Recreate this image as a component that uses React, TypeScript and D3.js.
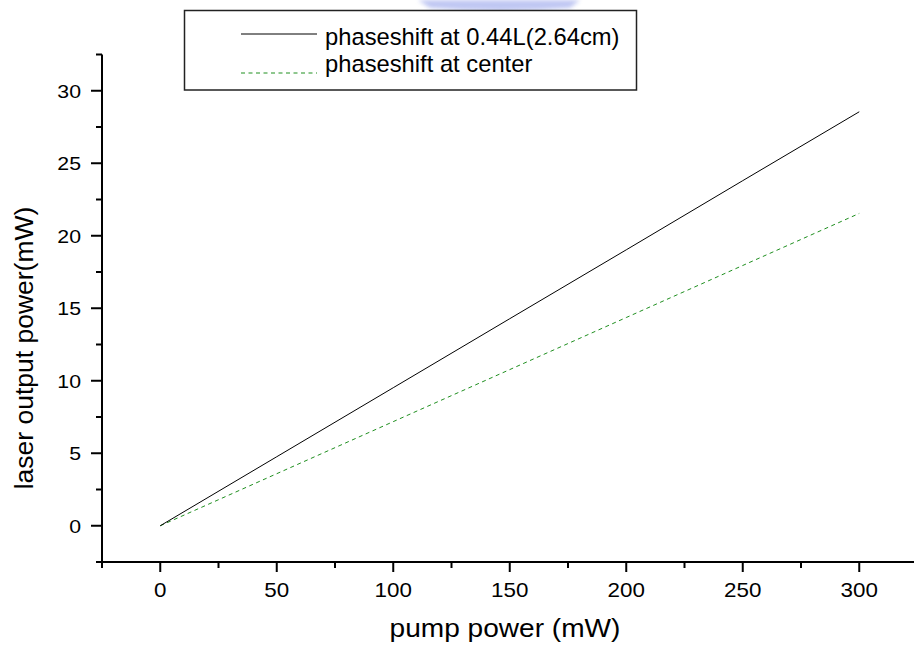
import React from "react";
import * as d3 from "d3";

const pumpPower = [0, 50, 100, 150, 200, 250, 300];
const outputAt044L = [0, 4.76, 9.52, 14.28, 19.03, 23.8, 28.55];
const outputAtCenter = [0, 3.59, 7.18, 10.77, 14.36, 17.95, 21.54];
const xMajorTicks = [0, 50, 100, 150, 200, 250, 300];
const xMinorTicks = [-25, 25, 75, 125, 175, 225, 275];
const yMajorTicks = [0, 5, 10, 15, 20, 25, 30];
const yMinorTicks = [-2.5, 2.5, 7.5, 12.5, 17.5, 22.5, 27.5, 32.5];
const legendLabels = ["phaseshift at 0.44L(2.64cm)", "phaseshift at center"];

const FONT = "'Liberation Sans', Arial, Helvetica, sans-serif";

export default function App() {
  const W = 914;
  const H = 646;
  const x = d3.scaleLinear().domain([-25, 325]).range([102, 917.5]);
  const y = d3.scaleLinear().domain([-2.5, 32.5]).range([562, 54.5]);
  const x0 = x(-25);
  const y0 = y(-2.5);

  const line = d3
    .line<number>()
    .x((_, i) => x(pumpPower[i]))
    .y((d) => y(d));

  return (
    <svg
      width={W}
      height={H}
      viewBox={`0 0 ${W} ${H}`}
      style={{ position: "absolute", left: 0, top: 0, background: "#fff" }}
    >
      <defs>
        <filter id="blur" x="-20%" y="-50%" width="140%" height="200%">
          <feGaussianBlur stdDeviation="2" />
        </filter>
      </defs>
      <rect x={0} y={0} width={W} height={H} fill="#fff" />
      {/* faint watermark fragment at the top */}
      <g filter="url(#blur)" opacity={0.55}>
        <path d="M418,0 L580,0 L570,8 Q500,14 430,8 Z" fill="#8c9ae8" />
      </g>
      {/* data lines */}
      <path d={line(outputAtCenter) || ""} fill="none" stroke="#1f8f1f" strokeWidth={1} strokeDasharray="4,3.5" />
      <path d={line(outputAt044L) || ""} fill="none" stroke="#000" strokeWidth={1} />

      {/* axes */}
      <line x1={x0} y1={y0} x2={W} y2={y0} stroke="#000" strokeWidth={2} />
      <line x1={x0} y1={y0 + 1} x2={x0} y2={y(32.5)} stroke="#000" strokeWidth={2} />
      {xMajorTicks.map((t) => (
        <line key={"xM" + t} x1={x(t)} x2={x(t)} y1={y0} y2={y0 + 10} stroke="#000" strokeWidth={2} />
      ))}
      {xMinorTicks.map((t) => (
        <line key={"xm" + t} x1={x(t)} x2={x(t)} y1={y0} y2={y0 + 6} stroke="#000" strokeWidth={2} />
      ))}
      {yMajorTicks.map((t) => (
        <line key={"yM" + t} x1={x0 - 11} x2={x0} y1={y(t)} y2={y(t)} stroke="#000" strokeWidth={2} />
      ))}
      {yMinorTicks.map((t) => (
        <line key={"ym" + t} x1={x0 - 6} x2={x0} y1={y(t)} y2={y(t)} stroke="#000" strokeWidth={2} />
      ))}
      {xMajorTicks.map((t) => (
        <g key={"xl" + t} transform={`translate(${x(t)},597) scale(1.12,1)`}>
          <text textAnchor="middle" fontFamily={FONT} fontSize={20} fill="#000">
            {t}
          </text>
        </g>
      ))}
      {yMajorTicks.map((t) => (
        <g key={"yl" + t} transform={`translate(81,${y(t) + 7}) scale(1.12,1)`}>
          <text textAnchor="end" fontFamily={FONT} fontSize={19} fill="#000">
            {t}
          </text>
        </g>
      ))}

      {/* axis titles */}
      <g transform="translate(505,637) scale(1.08,1)">
        <text textAnchor="middle" fontFamily={FONT} fontSize={26} fill="#000">
          pump power (mW)
        </text>
      </g>
      <g transform="translate(33,348) rotate(-90) scale(1.06,1)">
        <text textAnchor="middle" fontFamily={FONT} fontSize={25} fill="#000">
          laser output power(mW)
        </text>
      </g>

      {/* legend */}
      <rect x={184.5} y={10.5} width={452} height={79.5} fill="#fff" stroke="#222" strokeWidth={1.5} />
      <line x1={241} x2={317} y1={34} y2={34} stroke="#000" strokeWidth={1} />
      <line x1={241} x2={317} y1={73} y2={73} stroke="#1f8f1f" strokeWidth={1} strokeDasharray="4,3.5" />
      <g transform="translate(325,45) scale(0.97,1)">
        <text fontFamily={FONT} fontSize={24.5} fill="#000">
          {legendLabels[0]}
        </text>
      </g>
      <g transform="translate(325,72) scale(0.97,1)">
        <text fontFamily={FONT} fontSize={24.5} fill="#000">
          {legendLabels[1]}
        </text>
      </g>
    </svg>
  );
}
